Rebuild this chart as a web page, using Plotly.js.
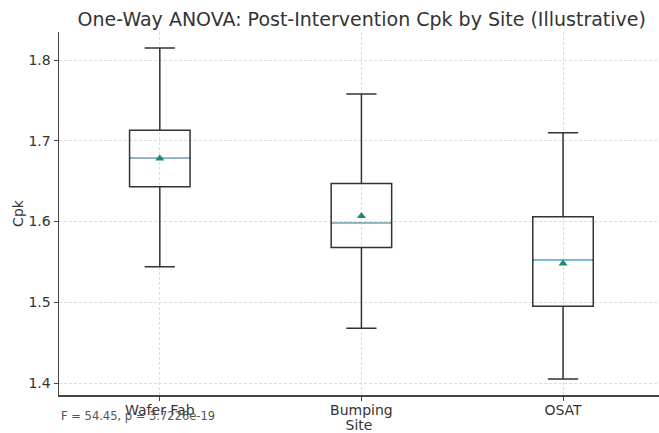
<!DOCTYPE html>
<html>
<head>
<meta charset="utf-8">
<script src="https://cdn.plot.ly/plotly-3.0.1.min.js"></script>
<style>html,body{margin:0;padding:0;background:#fff;}#chart{width:659px;height:433px;}</style>
</head>
<body>
<div id="chart"></div>
<script>
const sites = ["Wafer Fab", "Bumping", "OSAT"];
const lowerWhisker = [1.544, 1.468, 1.405];
const q1 = [1.643, 1.568, 1.495];
const median = [1.679, 1.598, 1.552];
const q3 = [1.713, 1.647, 1.606];
const upperWhisker = [1.815, 1.758, 1.710];
const means = [1.678, 1.607, 1.548];
const statText = "F = 54.45, p = 3.7226e-19";

const pos = sites.map((s, i) => i);
const halfBox = 0.15;

const traces = [];
traces.push({
  type: "box",
  x: pos,
  q1: q1, median: median, q3: q3,
  lowerfence: lowerWhisker, upperfence: upperWhisker,
  width: 2 * halfBox,
  whiskerwidth: 0.5,
  fillcolor: "rgba(0,0,0,0)",
  line: {color: "#333333", width: 1.5},
  boxpoints: false,
  hoverinfo: "skip",
  showlegend: false
});
// median lines overlaid in light teal
const mx = [], my = [];
median.forEach((m, i) => { mx.push(pos[i] - halfBox + 0.005, pos[i] + halfBox - 0.005, null); my.push(m, m, null); });
traces.push({type: "scatter", mode: "lines", x: mx, y: my, line: {color: "#80c6d6", width: 1.5}, showlegend: false, hoverinfo: "skip"});
traces.push({
  type: "scatter", mode: "markers", x: pos, y: means,
  marker: {symbol: "triangle-up", size: 8, color: "#1e8c6c"},
  showlegend: false, hoverinfo: "skip"
});

const font = "DejaVu Sans, sans-serif";
const layout = {
  width: 659, height: 433,
  margin: {l: 59, r: 0, t: 32, b: 38},
  paper_bgcolor: "#ffffff", plot_bgcolor: "#ffffff",
  font: {family: font, color: "#333333", size: 14},
  title: {text: "One-Way ANOVA: Post-Intervention Cpk by Site (Illustrative)", font: {family: font, size: 19, color: "#333333"}, x: 0.549, xanchor: "center", y: 1 - 19 / 433, yanchor: "middle"},
  xaxis: {
    range: [-0.5, 2.476],
    tickmode: "array", tickvals: pos, ticktext: sites,
    showgrid: true, gridcolor: "#dcdcdc", griddash: "3px,2px", gridwidth: 1,
    zeroline: false,
    showline: true, linecolor: "#444444", linewidth: 1.5,
    ticks: "outside", ticklen: 4, tickcolor: "#444444",
    ticklabelstandoff: -2,
    tickfont: {size: 14, color: "#333333"},
    title: {text: "Site", font: {size: 14, color: "#333333"}, standoff: 0}
  },
  yaxis: {
    range: [1.3852, 1.8347],
    tickvals: [1.4, 1.5, 1.6, 1.7, 1.8], ticktext: ["1.4", "1.5", "1.6", "1.7", "1.8"],
    showgrid: true, gridcolor: "#dcdcdc", griddash: "3px,2px", gridwidth: 1,
    zeroline: false,
    showline: true, linecolor: "#444444", linewidth: 1.5,
    ticks: "outside", ticklen: 4, tickcolor: "#444444",
    tickfont: {size: 14, color: "#333333"},
    title: {text: "Cpk", font: {size: 14, color: "#333333"}, standoff: 1}
  },
  annotations: [{
    text: statText, xref: "paper", yref: "paper", x: 0.0, y: -0.032,
    xanchor: "left", yanchor: "top", showarrow: false,
    font: {family: font, size: 11.5, color: "#555555"}
  }]
};
Plotly.newPlot("chart", traces, layout, {displayModeBar: false, staticPlot: true});
</script>
</body>
</html>
